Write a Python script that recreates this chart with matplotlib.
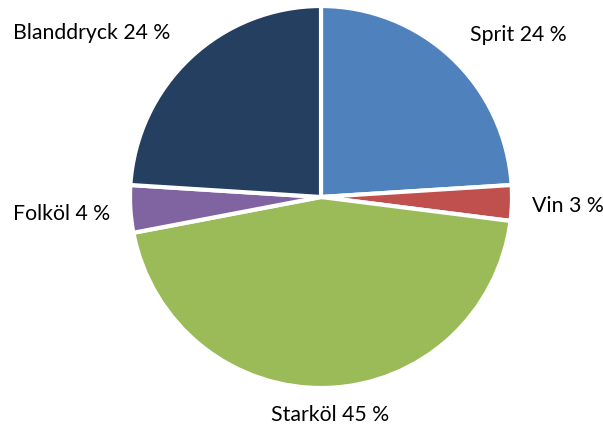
import matplotlib
matplotlib.use("Agg")
import matplotlib.pyplot as plt
import numpy as np

categories = ["Sprit", "Vin", "Starköl", "Folköl", "Blanddryck"]
values = [24, 3, 45, 4, 24]
colors = ["#4F81BD", "#C0504D", "#9BBB59", "#8064A2", "#253F60"]
labels = ["Sprit 24 %", "Vin 3 %", "Starköl 45 %", "Folköl 4 %", "Blanddryck 24 %"]

W, H = 603, 428
fig = plt.figure(figsize=(W / 100, H / 100), dpi=100)
cx, cy, r = 321, 197, 191
ax = fig.add_axes([(cx - r) / W, (H - cy - r) / H, 2 * r / W, 2 * r / H])
ax.pie(values, colors=colors, startangle=90, counterclock=False,
       wedgeprops=dict(edgecolor="white", linewidth=3.0))
ax.set_xlim(-1, 1)
ax.set_ylim(-1, 1)
ax.set_aspect("equal")
ax.axis("off")

# label centres in pixels (relative to pie centre), converted to radius units
label_px = [(518, 35), (568, 206), (330, 415), (62, 214), (92, 33)]
for lab, (px, py) in zip(labels, label_px):
    ax.text((px - cx) / r, (cy - py) / r, lab, ha="center", va="center",
            fontsize=15.3, family=["Lato", "DejaVu Sans"], color="#000000",
            clip_on=False)

fig.savefig("out.png", dpi=100, facecolor="white")
